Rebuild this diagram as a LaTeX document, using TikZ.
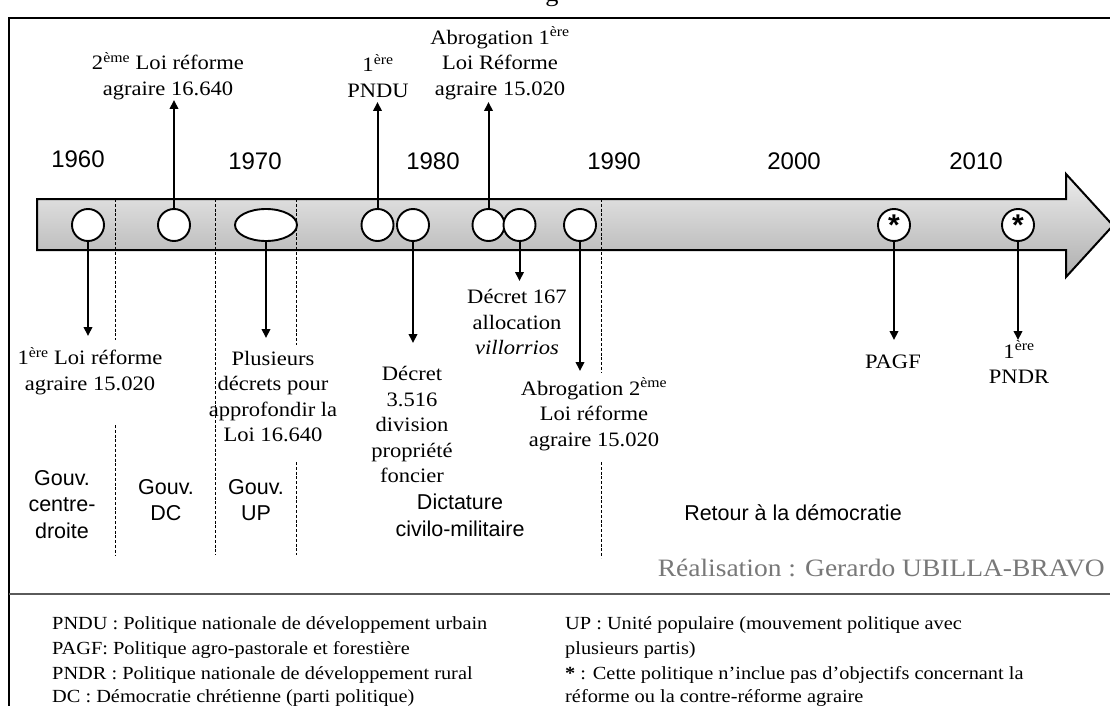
\documentclass[tikz,border=0pt]{standalone}
\usepackage{fontspec}
\setmainfont{Liberation Serif}[FakeStretch=1.1]
\newfontfamily\arialf{Liberation Sans}
\usetikzlibrary{arrows.meta,shapes.geometric}
\definecolor{arrtop}{RGB}{236,236,236}
\definecolor{arrbot}{RGB}{175,175,175}
\definecolor{realgray}{RGB}{120,120,120}
\definecolor{sepgray}{RGB}{90,90,90}
\tikzset{
  ev/.style={circle, draw, line width=1.9pt, fill=white, minimum size=32pt, inner sep=0pt},
  evell/.style={ellipse, draw, line width=1.9pt, fill=white, minimum width=62pt, minimum height=32pt, inner sep=0pt},
  arr/.style={line width=2pt, -{Triangle[length=9pt,width=8.5pt]}},
  sepline/.style={line width=0.9pt, dash pattern=on 3pt off 1.8pt},
  lbl/.style={font=\fontsize{20.5}{25.5}\selectfont, align=center, inner sep=0pt},
  yr/.style={font=\arialf\fontsize{24}{26}\selectfont, inner sep=0pt},
  per/.style={font=\arialf\fontsize{21.5}{26.5}\selectfont, align=center, inner sep=0pt},
  leg/.style={font=\fontsize{18.5}{20}\selectfont, anchor=base west, inner sep=0pt},
}
\begin{document}
\begin{tikzpicture}[x=1pt,y=-1pt]
\useasboundingbox (0,0) rectangle (1110,706);
\fill[white] (0,0) rectangle (1110,706);
% cut title fragment
\node[font=\fontsize{24}{24}\selectfont, anchor=base, inner sep=0pt] (title) at (552,2) {g};
% frame
\draw[line width=1.6pt] (9,720) -- (9,18) -- (1130,18);
\draw[line width=1.6pt, sepgray] (9,594) -- (1130,594);
% timeline arrow
\draw[line width=2pt, top color=arrtop, bottom color=arrbot, line join=miter]
  (37,199) -- (1066,199) -- (1066,174) -- (1113,225.5) -- (1066,277) -- (1066,250) -- (37,250) -- cycle;
% dashed separators
\draw[sepline] (115,199) -- (115,340);
\draw[sepline] (115,425) -- (115,555);
\draw[sepline] (215,199) -- (215,555);
\draw[sepline] (296,199) -- (296,345);
\draw[sepline] (296,462) -- (296,555);
\draw[sepline] (601,199) -- (601,372);
\draw[sepline] (601,462) -- (601,558);
% years
\node[yr] (y60) at (78,159) {1960};
\node[yr] (y70) at (255,161) {1970};
\node[yr] (y80) at (433,161) {1980};
\node[yr] (y90) at (614,161) {1990};
\node[yr] (y00) at (794,161) {2000};
\node[yr] (y10) at (976,161) {2010};
% events
\node[ev] (c1) at (88,225) {};
\node[ev] (c2) at (174,225) {};
\node[evell] (c3) at (266,225) {};
\node[ev] (c4) at (377.5,225) {};
\node[ev] (c5) at (413,225) {};
\node[ev] (c6) at (488.5,225) {};
\node[ev] (c7) at (519.5,225) {};
\node[ev] (c8) at (580,225) {};
\node[ev, font=\arialf\bfseries\fontsize{30}{30}\selectfont] (c9) at (894,225) {\raisebox{-6pt}{*}};
\node[ev, font=\arialf\bfseries\fontsize{30}{30}\selectfont] (c10) at (1018,225) {\raisebox{-6pt}{*}};
% labels above
\node[lbl] (l2) at (168,76) {2\textsuperscript{ème} Loi réforme\\agraire 16.640};
\node[lbl] (l4) at (378,76) {1\textsuperscript{ère}\\PNDU};
\node[lbl] (l6) at (500,63) {Abrogation 1\textsuperscript{ère}\\Loi Réforme\\agraire 15.020};
% labels below
\node[lbl] (l1) at (90,371) {1\textsuperscript{ère} Loi réforme\\agraire 15.020};
\node[lbl] (l3) at (273,396.5) {Plusieurs\\décrets pour\\approfondir la\\Loi 16.640};
\node[lbl] (l5) at (412,424.5) {Décret\\3.516\\division\\propriété\\foncier};
\node[lbl] (l7) at (517,322) {Décret 167\\allocation\\\textit{villorrios}};
\node[lbl] (l8) at (594,414) {Abrogation 2\textsuperscript{ème}\\Loi réforme\\agraire 15.020};
\node[lbl] (l9) at (893,362) {PAGF};
\node[lbl] (l10) at (1019,362.5) {1\textsuperscript{ère}\\PNDR};
% arrow tips
\coordinate (t1) at (88,336);
\coordinate (t2) at (174,100);
\coordinate (t3) at (266,338);
\coordinate (t4) at (377.5,102);
\coordinate (t5) at (413,343);
\coordinate (t6) at (488.5,102);
\coordinate (t7) at (519.5,281);
\coordinate (t8) at (580,371);
\coordinate (t9) at (894,340);
\coordinate (t10) at (1018,340);
\draw[arr] (c1) -- (t1);
\draw[arr] (c2) -- (t2);
\draw[arr] (c3) -- (t3);
\draw[arr] (c4) -- (t4);
\draw[arr] (c5) -- (t5);
\draw[arr] (c6) -- (t6);
\draw[arr] (c7) -- (t7);
\draw[arr] (c8) -- (t8);
\draw[arr] (c9) -- (t9);
\draw[arr] (c10) -- (t10);
% periods
\node[per] (p1) at (62,504.5) {Gouv.\\centre-\\droite};
\node[per] (p2) at (166,500) {Gouv.\\DC};
\node[per] (p3) at (256,500) {Gouv.\\UP};
\node[per] (p4) at (460,515.5) {Dictature\\civilo-militaire};
\node[per] (p5) at (793,513) {Retour à la démocratie};
% credit
\node[font=\fontsize{25}{25}\selectfont, text=realgray, anchor=east, inner sep=0pt] (cred) at (1105,568) {Réalisation : Gerardo UBILLA-BRAVO};
% legend
\node[leg] (g1) at (52,629) {PNDU : Politique nationale de développement urbain};
\node[leg] (g2) at (52,654) {PAGF: Politique agro-pastorale et forestière};
\node[leg] (g3) at (52,679) {PNDR : Politique nationale de développement rural};
\node[leg] (g4) at (52,702.5) {DC : Démocratie chrétienne (parti politique)};
\node[leg] (g5) at (565,629) {UP : Unité populaire (mouvement politique avec};
\node[leg] (g6) at (565,654) {plusieurs partis)};
\node[leg] (g7) at (565,679) {\textbf{*} : Cette politique n’inclue pas d’objectifs concernant la};
\node[leg] (g8) at (565,702.5) {réforme ou la contre-réforme agraire};
\end{tikzpicture}
\end{document}
